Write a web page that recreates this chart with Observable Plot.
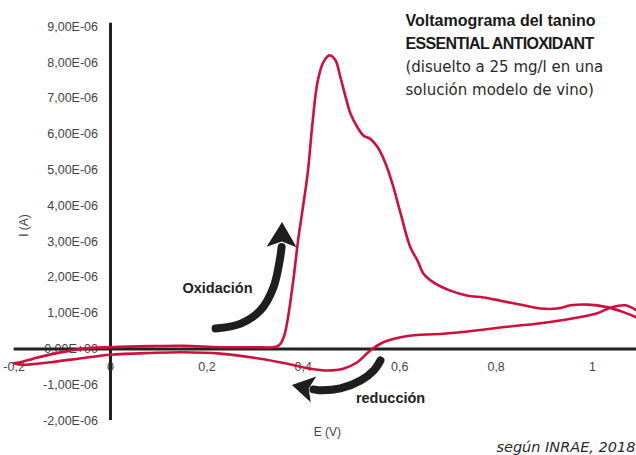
<!DOCTYPE html>
<html><head><meta charset="utf-8">
<script src="https://cdn.jsdelivr.net/npm/d3@7"></script>
<script src="https://cdn.jsdelivr.net/npm/@observablehq/plot@0.6"></script>
<style>
html,body{margin:0;padding:0;background:#fff;}
#chart{width:636px;height:455px;overflow:hidden;}
</style></head>
<body><div id="chart"></div>
<script>
// ---- Data (E in V, I in 1e-6 A) ----
// forward (oxidation) scan
const fwdE = [-0.2, -0.187, -0.16, -0.124, -0.089, -0.056, 0, 0.083, 0.151, 0.228, 0.3, 0.343, 0.353, 0.361, 0.367, 0.373, 0.38, 0.39, 0.398, 0.409, 0.419, 0.429, 0.44, 0.45, 0.456, 0.467, 0.477, 0.488, 0.498, 0.512, 0.525, 0.539, 0.554, 0.571, 0.585, 0.602, 0.622, 0.637, 0.649, 0.67, 0.705, 0.741, 0.774, 0.809, 0.857, 0.892, 0.927, 0.955, 0.99, 1.03, 1.064, 1.091, 1.12];
const fwdI = [-0.4, -0.37, -0.27, -0.15, -0.06, 0.01, 0.05, 0.08, 0.09, 0.05, 0.05, 0.06, 0.15, 0.4, 0.78, 1.3, 2.0, 3.12, 3.85, 4.9, 6.3, 7.42, 7.97, 8.17, 8.2, 8.06, 7.59, 7.03, 6.57, 6.2, 5.96, 5.87, 5.64, 5.17, 4.61, 3.78, 2.84, 2.47, 2.11, 1.86, 1.63, 1.49, 1.44, 1.35, 1.22, 1.13, 1.13, 1.22, 1.24, 1.17, 1.03, 0.88, 0.62];
// reverse (reduction) scan
const revE = [1.105, 1.091, 1.068, 1.037, 1.01, 0.961, 0.892, 0.809, 0.741, 0.67, 0.643, 0.602, 0.566, 0.539, 0.512, 0.483, 0.45, 0.415, 0.367, 0.311, 0.228, 0.151, 0.083, 0, -0.056, -0.124, -0.187, -0.2];
const revI = [0.92, 1.08, 1.22, 1.15, 1.0, 0.86, 0.72, 0.6, 0.49, 0.41, 0.4, 0.33, 0.19, -0.04, -0.37, -0.55, -0.6, -0.55, -0.41, -0.27, -0.13, -0.09, -0.11, -0.16, -0.25, -0.37, -0.44, -0.4];

// tick values and labels
const yTicks = [-2, -1, 0, 1, 2, 3, 4, 5, 6, 7, 8, 9];
const yTickLabels = ["-2,00E-06", "-1,00E-06", "0,00E+00", "1,00E-06", "2,00E-06", "3,00E-06", "4,00E-06", "5,00E-06", "6,00E-06", "7,00E-06", "8,00E-06", "9,00E-06"];
const xTicks = [-0.2, 0, 0.2, 0.4, 0.6, 0.8, 1];
const xTickLabels = ["-0,2", "0", "0,2", "0,4", "0,6", "0,8", "1"];

// annotation arrows (data coordinates)
const oxArrowE = [0.218, 0.27, 0.311, 0.338, 0.351, 0.355];
const oxArrowI = [0.57, 0.71, 1.08, 1.72, 2.47, 2.85];
const redArrowE = [0.56, 0.546, 0.519, 0.477, 0.432, 0.421];
const redArrowI = [-0.32, -0.6, -0.88, -1.1, -1.15, -1.13];

// texts
const titleBold = ["Voltamograma del tanino", "ESSENTIAL ANTIOXIDANT"];
const titleRegular = ["(disuelto a 25 mg/l en una", "solución modelo de vino)"];
const annotText = ["Oxidación", "reducción"];
const annotE = [0.222, 0.581];
const annotI = [1.69, -1.38];
const xLabel = "E (V)";
const yLabel = "I (A)";
const caption = "según INRAE, 2018";

// ---- build tables ----
const curve = [
  ...fwdE.map((e, i) => ({E: e, I: fwdI[i]})),
  ...revE.map((e, i) => ({E: e, I: revI[i]}))
];
const oxArrow = oxArrowE.map((e, i) => ({E: e, I: oxArrowI[i]}));
const redArrow = redArrowE.map((e, i) => ({E: e, I: redArrowI[i]}));
const yTickData = yTicks.map((v, i) => ({v, label: yTickLabels[i]}));
const xTickData = xTicks.map((v, i) => ({v, label: xTickLabels[i]}));
const annots = annotText.map((t, i) => ({t, E: annotE[i], I: annotI[i]}));

// arrowhead symbol with concave back
const arrowHead = {
  draw(ctx, size) {
    const r = Math.sqrt(size / Math.PI);
    const L = r, W = 0.6 * r, N = 0.22 * r;
    ctx.moveTo(0, -L);
    ctx.lineTo(W, 0);
    ctx.lineTo(0, -N);
    ctx.lineTo(-W, 0);
    ctx.closePath();
  }
};

const red = "#d0103c";
const ink = "#1e1e1e";
const FONT = "Liberation Sans, Arial, sans-serif";

const plot = Plot.plot({
  width: 636,
  height: 455,
  marginTop: 0, marginRight: 0, marginBottom: 0, marginLeft: 0,
  x: {domain: [-0.2, 1.09], range: [13.6, 635.4], axis: null},
  y: {domain: [-2, 9], range: [420.1, 26.3], axis: null},
  style: {fontFamily: FONT, fontSize: "12.5px", color: "#444", background: "#fff"},
  marks: [
    // tick labels
    Plot.text(yTickData, {x: () => 0, y: "v", text: "label", dx: -12.5, textAnchor: "end", fill: "#444", fontSize: 12.5}),
    Plot.text(xTickData, {x: "v", y: () => 0, text: "label", dy: 18, fill: "#444", fontSize: 12.5}),
    // axis titles
    Plot.text([yLabel], {x: () => -0.18, y: () => 3.45, text: d => d, rotate: -90, fill: "#444", fontSize: 12}),
    Plot.text([xLabel], {x: () => 0.45, y: () => -2.33, text: d => d, fill: "#444", fontSize: 12}),
    // axis lines
    Plot.ruleY([0], {x1: -0.2, x2: 1.2, stroke: "#222", strokeWidth: 3}),
    Plot.ruleX([0], {y1: -2, y2: 9.1, stroke: "#222", strokeWidth: 3}),
    // voltammogram
    Plot.line(curve, {x: "E", y: "I", curve: "catmull-rom", stroke: red, strokeWidth: 2.6, clip: true}),
    // arrows
    Plot.line(oxArrow, {x: "E", y: "I", curve: "catmull-rom", stroke: ink, strokeWidth: 8, strokeLinecap: "round"}),
    Plot.dot([oxArrow[oxArrow.length - 1]], {x: "E", y: "I", symbol: arrowHead, r: 25, rotate: 1, fill: ink, stroke: "none"}),
    Plot.line(redArrow, {x: "E", y: "I", curve: "catmull-rom", stroke: ink, strokeWidth: 8, strokeLinecap: "round"}),
    Plot.dot([redArrow[redArrow.length - 1]], {x: "E", y: "I", symbol: arrowHead, r: 22, rotate: -78, fill: ink, stroke: "none"}),
    // annotations
    Plot.text(annots, {x: "E", y: "I", text: "t", fill: "#222", fontWeight: "bold", fontSize: 14.5}),
    // title
    Plot.text([titleBold[0]], {frameAnchor: "top-left", dx: 405, dy: 25, text: d => d, textAnchor: "start", lineAnchor: "bottom", fill: "#1a1a1a", fontWeight: "bold", fontSize: 16}),
    Plot.text([titleBold[1]], {frameAnchor: "top-left", dx: 405, dy: 48, text: d => d, textAnchor: "start", lineAnchor: "bottom", fill: "#1a1a1a", fontWeight: "bold", fontSize: 16}),
    Plot.text([titleRegular[0]], {frameAnchor: "top-left", dx: 405, dy: 71, text: d => d, textAnchor: "start", lineAnchor: "bottom", fill: "#2a2a2a", fontFamily: "DejaVu Sans", fontSize: 15}),
    Plot.text([titleRegular[1]], {frameAnchor: "top-left", dx: 405, dy: 94, text: d => d, textAnchor: "start", lineAnchor: "bottom", fill: "#2a2a2a", fontFamily: "DejaVu Sans", fontSize: 15}),
    // caption
    Plot.text([caption], {frameAnchor: "top-left", dx: 635, dy: 451, text: d => d, textAnchor: "end", lineAnchor: "bottom", fill: "#2a2a2a", fontFamily: "DejaVu Sans", fontStyle: "italic", fontSize: 14.5})
  ]
});
// tighten the condensed bold subtitle line
d3.select(plot).selectAll("text")
  .filter(function() { return this.textContent === titleBold[1]; })
  .attr("letter-spacing", "-0.7");
document.getElementById("chart").appendChild(plot);
</script>
</body></html>
